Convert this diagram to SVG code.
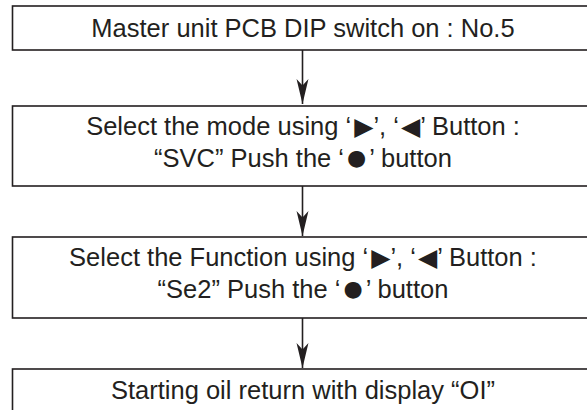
<svg xmlns="http://www.w3.org/2000/svg" width="587" height="410" viewBox="0 0 587 410">
<style>
.box{fill:#fff;stroke:#231f20;stroke-width:1.6}
.t{font-family:"Liberation Sans","DejaVu Sans",sans-serif;font-size:25.5px;fill:#231f20;text-anchor:middle}
.sym{font-family:"DejaVu Sans",sans-serif;font-size:25px}
.dot{font-family:"DejaVu Sans",sans-serif;font-size:22px}
.ln{stroke:#231f20;stroke-width:1.6;fill:none}
</style>
<defs>
<marker id="ah" markerUnits="userSpaceOnUse" markerWidth="26" markerHeight="14" refX="23" refY="6" orient="auto" viewBox="0 0 24 12">
<path d="M23,6 L0,0.5 L6,6 L0,11.5 Z" fill="#231f20"/>
</marker>
</defs>
<rect width="587" height="410" fill="#fff"/>
<g id="n1">
<rect class="box" x="12.5" y="6" width="600" height="44"/>
<text class="t" x="303" y="37">Master unit PCB DIP switch on : No.5</text>
</g>
<g id="n2">
<rect class="box" x="12.5" y="106" width="600" height="80"/>
<text class="t" x="303" y="135">Select the mode using ‘<tspan class="sym" dx="3">▶</tspan>’, ‘<tspan class="sym" dx="2">◀</tspan>’ Button :</text>
<text class="t" x="303" y="167">“SVC” Push the ‘<tspan class="dot" dx="3" dy="-2">●</tspan><tspan dx="3" dy="2">’ button</tspan></text>
</g>
<g id="n3">
<rect class="box" x="12.5" y="237" width="600" height="81"/>
<text class="t" x="303" y="266">Select the Function using ‘<tspan class="sym" dx="3">▶</tspan>’, ‘<tspan class="sym" dx="2">◀</tspan>’ Button :</text>
<text class="t" x="303" y="298">“Se2” Push the ‘<tspan class="dot" dx="3" dy="-2">●</tspan><tspan dx="3" dy="2">’ button</tspan></text>
</g>
<g id="n4">
<rect class="box" x="12.5" y="369" width="600" height="60"/>
<text class="t" x="303" y="399">Starting oil return with display “OI”</text>
</g>
<g id="connectors">
<line class="ln" x1="302.5" y1="50" x2="302.5" y2="104" marker-end="url(#ah)"/>
<line class="ln" x1="302.5" y1="186" x2="302.5" y2="236" marker-end="url(#ah)"/>
<line class="ln" x1="302.5" y1="318" x2="302.5" y2="368" marker-end="url(#ah)"/>
</g>
</svg>
